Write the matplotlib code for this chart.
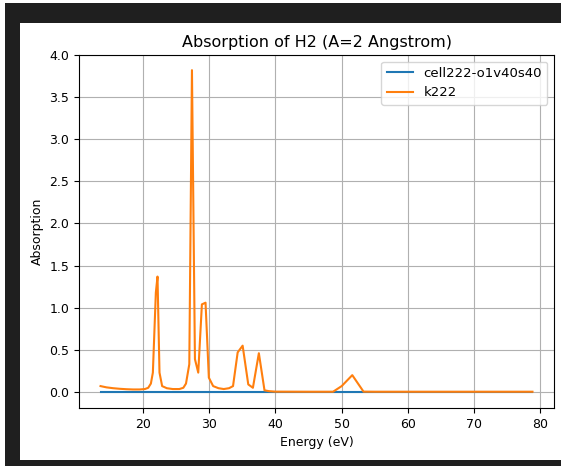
import matplotlib
matplotlib.use("Agg")
import matplotlib.pyplot as plt
from matplotlib.patches import Rectangle

# Data
energy_k222 = [13.6, 14.5, 15.5, 16.5, 17.5, 18.5, 19.5, 20.3, 20.8, 21.2, 21.5,
               21.95, 22.2, 22.5, 22.9, 23.6, 24.5, 25.5, 26.1, 26.5, 27.0, 27.4,
               27.85, 28.35, 28.9, 29.45, 29.95, 30.6, 31.4, 32.2, 33.0, 33.6,
               34.3, 35.05, 35.9, 36.6, 37.5, 38.35, 39.0, 40.0, 45.0, 48.7,
               50.0, 51.6, 53.3, 55.0, 60.0, 70.0, 78.8]
absorption_k222 = [0.07, 0.055, 0.045, 0.038, 0.033, 0.03, 0.03, 0.035, 0.05, 0.1, 0.23,
                   1.18, 1.37, 0.23, 0.07, 0.045, 0.035, 0.035, 0.05, 0.1, 0.33, 3.82,
                   0.39, 0.23, 1.04, 1.06, 0.17, 0.07, 0.045, 0.035, 0.045, 0.07,
                   0.47, 0.55, 0.09, 0.05, 0.46, 0.02, 0.01, 0.004, 0.003, 0.003,
                   0.07, 0.2, 0.004, 0.003, 0.003, 0.003, 0.003]

energy_cell = [13.6, 20.0, 30.0, 40.0, 50.0, 60.0, 70.0, 78.8]
absorption_cell = [0.0, 0.0, 0.0, 0.0, 0.0, 0.0, 0.0, 0.0]

W, H = 561, 466
fig = plt.figure(figsize=(W / 100, H / 100), dpi=100)
fig.patch.set_facecolor("white")

# dark frame of the screenshot
dark = "#1f1f1f"
fig.add_artist(Rectangle((5 / W, 0), 15 / W, 1 - 3 / H, transform=fig.transFigure,
                         facecolor=dark, edgecolor="none", zorder=-1))
fig.add_artist(Rectangle((5 / W, 1 - 23 / H), 1, 20 / H, transform=fig.transFigure,
                         facecolor=dark, edgecolor="none", zorder=-1))
fig.add_artist(Rectangle((5 / W, 0), 1, 6 / H, transform=fig.transFigure,
                         facecolor=dark, edgecolor="none", zorder=-1))

ax = fig.add_axes([79 / W, (H - 408) / H, 475 / W, 353 / H])
ax.plot(energy_cell, absorption_cell, color="#1f77b4", lw=1.5, label="cell222-o1v40s40")
ax.plot(energy_k222, absorption_k222, color="#ff7f0e", lw=1.5, label="k222")
ax.grid(True)
ax.set_ylim(-0.19, 4.0)
ax.set_xlim(10.35, 82.05)
ax.set_title("Absorption of H2 (A=2 Angstrom)", fontsize=11.5)
ax.set_xlabel("Energy (eV)", fontsize=9)
ax.set_ylabel("Absorption", fontsize=9)
ax.tick_params(labelsize=9)
ax.legend(loc="upper right", fontsize=9.5)

fig.savefig("out.png", dpi=100)
